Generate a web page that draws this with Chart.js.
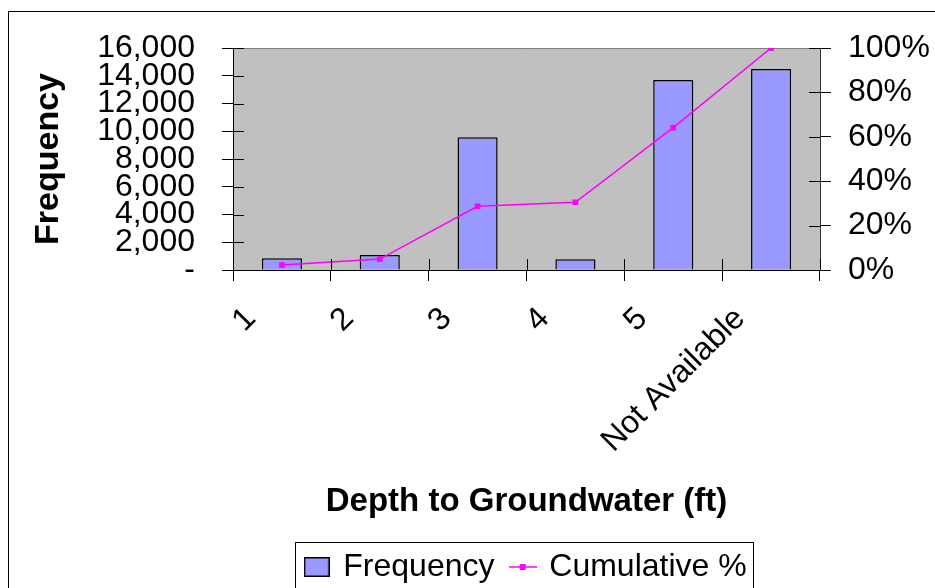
<!DOCTYPE html>
<html>
<head>
<meta charset="utf-8">
<script src="https://cdn.jsdelivr.net/npm/chart.js@4.4.1/dist/chart.umd.min.js"></script>
<style>
  html, body { margin: 0; padding: 0; background: #fff; }
  #wrap { width: 935px; height: 588px; }
</style>
</head>
<body>
<div id="wrap"><canvas id="histChart"></canvas></div>
<script>
// ── DATA ────────────────────────────────────────────────────────────────────────

const categories = ['1', '2', '3', '4', '5', 'Not Available'];
const frequency = [845, 1080, 9565, 770, 13690, 14490];
const cumulativePct = [2.2, 4.9, 28.7, 30.5, 64.1, 100];
const freqTickMax = 16000;
const freqTickStep = 2000;
const pctTickMax = 100;
const pctTickStep = 20;

// ── STYLE ───────────────────────────────────────────────────────────────────────

const FONT = "'Liberation Sans', Arial, sans-serif";
const BAR_FILL = '#9999FF';
const LINE_COL = '#FF00FF';
const PLOT_BG = '#C0C0C0';

// legend swatches (canvas images used as point styles)
function makeSwatch(w, h, draw) {
  const c = document.createElement('canvas');
  c.width = w; c.height = h;
  draw(c.getContext('2d'), w, h);
  return c;
}
const barSwatch = makeSwatch(26, 20, (g, w, h) => {
  g.fillStyle = BAR_FILL;
  g.fillRect(0, 0, w, h);
  g.strokeStyle = '#000';
  g.lineWidth = 1.5;
  g.strokeRect(0.75, 0.75, w - 1.5, h - 1.5);
});
const lineSwatch = makeSwatch(28, 8, (g, w, h) => {
  g.strokeStyle = LINE_COL;
  g.lineWidth = 1.5;
  g.beginPath();
  g.moveTo(0, h / 2);
  g.lineTo(w, h / 2);
  g.stroke();
  g.fillStyle = LINE_COL;
  g.fillRect(w / 2 - 3, h / 2 - 3, 6, 6);
});

// ── PLUGINS ─────────────────────────────────────────────────────────────────────

const excelFrame = {
  id: 'excelFrame',
  beforeDraw(chart) {
    const { ctx, chartArea: a } = chart;
    ctx.save();
    ctx.fillStyle = '#fff';
    ctx.fillRect(0, 0, chart.width, chart.height);
    ctx.fillStyle = PLOT_BG;
    ctx.fillRect(a.left, a.top, a.right - a.left, a.bottom - a.top);
    ctx.strokeStyle = '#808080';
    ctx.lineWidth = 1;
    ctx.beginPath();
    ctx.moveTo(a.left, a.top + 0.5);
    ctx.lineTo(a.right, a.top + 0.5);
    ctx.stroke();
    ctx.restore();
  },
  afterDraw(chart) {
    const { ctx, chartArea: a, scales } = chart;
    ctx.save();
    ctx.strokeStyle = '#000';
    ctx.lineWidth = 1;
    // inner halves of the crossing tick marks
    ctx.beginPath();
    scales.y.ticks.forEach(t => {
      const y = Math.round(scales.y.getPixelForValue(t.value)) + 0.5;
      ctx.moveTo(a.left, y); ctx.lineTo(a.left + 11, y);
    });
    scales.y1.ticks.forEach(t => {
      const y = Math.round(scales.y1.getPixelForValue(t.value)) + 0.5;
      ctx.moveTo(a.right - 11, y); ctx.lineTo(a.right, y);
    });
    for (let i = 0; i <= categories.length; i++) {
      const x = Math.round(scales.x.getPixelForValue(i - 0.5)) + 0.5;
      ctx.moveTo(x, a.bottom - 11); ctx.lineTo(x, a.bottom);
    }
    ctx.stroke();

    // legend border
    const boxes = chart.legend.legendHitBoxes;
    if (boxes && boxes.length) {
      const last = boxes[boxes.length - 1];
      const l = boxes[0].left - 11;
      const r = last.left + last.width + 7;
      ctx.strokeStyle = '#000';
      ctx.strokeRect(Math.round(l) + 0.5, 542.5, Math.round(r - l), 80);
    }

    // outer chart border
    ctx.strokeRect(8.5, 11.5, 1200, 1200);
    ctx.restore();
  }
};

// ── CHART ───────────────────────────────────────────────────────────────────────

const tickFont = { family: FONT, size: 32 };
const titleFont = { family: FONT, size: 33, weight: 'bold' };

new Chart(document.getElementById('histChart'), {
  type: 'bar',
  data: {
    labels: categories,
    datasets: [
      {
        label: 'Frequency',
        data: frequency,
        backgroundColor: BAR_FILL,
        borderColor: '#000',
        borderWidth: 1.5,
        categoryPercentage: 1,
        barPercentage: 0.41,
        yAxisID: 'y',
        order: 1
      },
      {
        label: 'Cumulative %',
        type: 'line',
        data: cumulativePct,
        borderColor: LINE_COL,
        backgroundColor: LINE_COL,
        borderWidth: 1.5,
        pointStyle: 'rect',
        pointRadius: 4,
        pointBorderWidth: 0,
        pointBackgroundColor: LINE_COL,
        tension: 0,
        yAxisID: 'y1',
        order: 0
      }
    ]
  },
  options: {
    responsive: true,
    maintainAspectRatio: false,
    animation: false,
    layout: { padding: { top: 48, left: 0, right: 0, bottom: -5 } },
    plugins: {
      tooltip: { enabled: false },
      legend: {
        position: 'bottom',
        fullSize: false,
        labels: {
          usePointStyle: true,
          boxWidth: 21,
          padding: 0,
          color: '#000',
          font: tickFont,
          generateLabels: () => [
            { text: 'Frequency  ', pointStyle: barSwatch, datasetIndex: 0, fontColor: '#000', hidden: false, lineWidth: 0 },
            { text: 'Cumulative %', pointStyle: lineSwatch, datasetIndex: 1, fontColor: '#000', hidden: false, lineWidth: 0 }
          ]
        }
      }
    },
    scales: {
      x: {
        afterFit: s => { s.height = 281; },
        grid: { offset: true, drawOnChartArea: false, drawTicks: true, tickLength: 11, color: '#000' },
        border: { color: '#000', width: 1 },
        ticks: {
          color: '#000',
          font: tickFont,
          minRotation: 45,
          maxRotation: 45,
          autoSkip: false,
          padding: 19,
          labelOffset: -31
        },
        title: {
          display: true,
          text: 'Depth to Groundwater (ft)',
          color: '#000',
          font: titleFont,
          padding: { top: 0, bottom: 29 }
        }
      },
      y: {
        position: 'left',
        min: 0,
        max: freqTickMax,
        afterFit: s => { s.width = 233; },
        grid: { drawOnChartArea: false, drawTicks: true, tickLength: 11, color: '#000' },
        border: { color: '#000', width: 1 },
        ticks: {
          stepSize: freqTickStep,
          autoSkip: false,
          color: '#000',
          font: tickFont,
          padding: 27,
          callback: v => v === 0 ? '-' : v.toLocaleString('en-US')
        },
        title: {
          display: true,
          text: 'Frequency',
          color: '#000',
          font: { family: FONT, size: 34, weight: 'bold' },
          padding: { top: 28, bottom: 0 }
        }
      },
      y1: {
        position: 'right',
        min: 0,
        max: pctTickMax,
        afterFit: s => { s.width = 115; },
        grid: { drawOnChartArea: false, drawTicks: true, tickLength: 11, color: '#000' },
        border: { color: '#333', width: 1 },
        ticks: {
          stepSize: pctTickStep,
          autoSkip: false,
          color: '#000',
          font: tickFont,
          padding: 17,
          callback: v => v + '%'
        }
      }
    }
  },
  plugins: [excelFrame]
});
</script>
</body>
</html>
